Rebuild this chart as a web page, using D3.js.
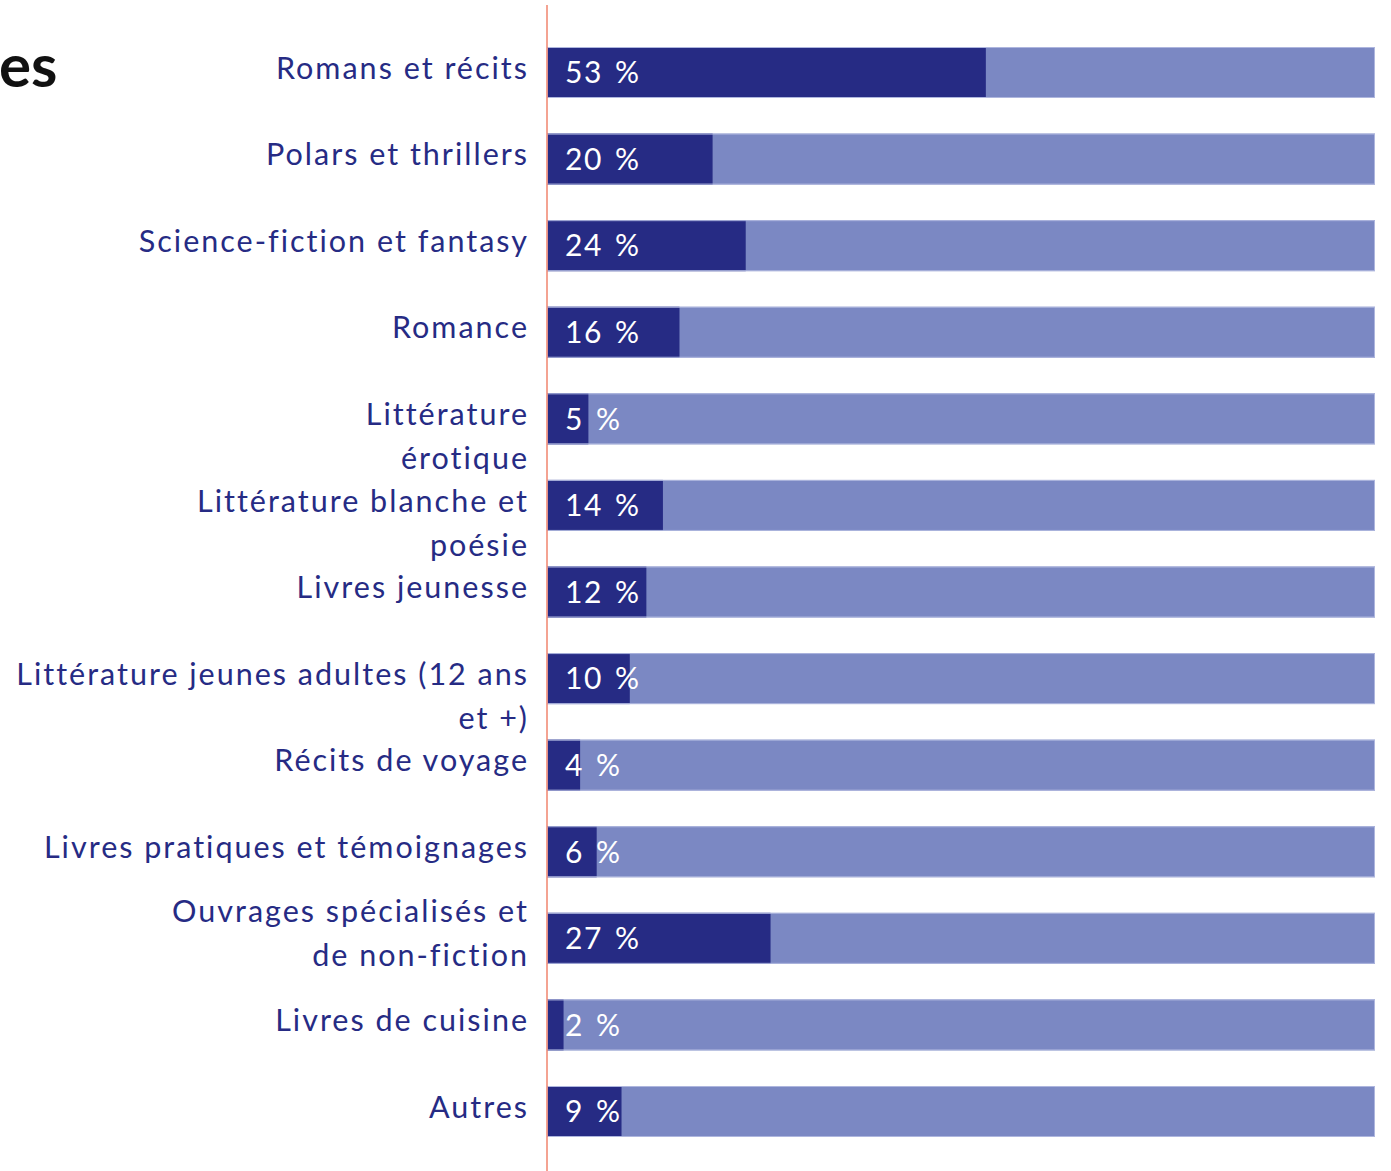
<!DOCTYPE html>
<html lang="fr">
<head>
<meta charset="utf-8">
<script src="https://cdn.jsdelivr.net/npm/d3@7"></script>
<style>
  html, body { margin: 0; padding: 0; background: #fff; }
  svg { display: block; }
  text { font-family: Lato, "Noto Sans", sans-serif; }
</style>
</head>
<body>
<svg id="chart" width="1391" height="1171"></svg>
<script>
// Genres read (share of respondents, %)
const categories = [
  "Romans et récits",
  "Polars et thrillers",
  "Science-fiction et fantasy",
  "Romance",
  "Littérature\nérotique",
  "Littérature blanche et\npoésie",
  "Livres jeunesse",
  "Littérature jeunes adultes (12 ans\net +)",
  "Récits de voyage",
  "Livres pratiques et témoignages",
  "Ouvrages spécialisés et\nde non-fiction",
  "Livres de cuisine",
  "Autres"
];
const values = [53, 20, 24, 16, 5, 14, 12, 10, 4, 6, 27, 2, 9];
const total = 100;
const titleText = "es";

const dark = "#262b84";
const light = "#7b88c3";
const navy = "#262b84";

const svg = d3.select("#chart");
const rows = categories.map((c, i) => ({ label: c, value: values[i] }));

const x = d3.scaleLinear().domain([0, total]).range([547, 1375]);
const y = d3.scaleBand().domain(categories).range([47, 1137]).paddingInner(0.411).paddingOuter(0);

// Title
svg.append("text")
  .attr("x", -1).attr("y", 87)
  .attr("font-size", 60).attr("font-weight", 700)
  .attr("fill", "#111")
  .text(titleText);

// Full-width background bars
svg.append("g").selectAll("rect").data(rows).join("rect")
  .attr("x", x(0)).attr("y", d => y(d.label))
  .attr("width", x(total) - x(0)).attr("height", y.bandwidth())
  .attr("fill", light);

// Value bars
svg.append("g").selectAll("rect").data(rows).join("rect")
  .attr("x", x(0)).attr("y", d => y(d.label))
  .attr("width", d => x(d.value) - x(0)).attr("height", y.bandwidth())
  .attr("fill", dark);

// Thin pale outline round each bar
svg.append("g").selectAll("rect").data(rows).join("rect")
  .attr("x", x(0) + 0.5).attr("y", d => y(d.label) + 0.5)
  .attr("width", x(total) - x(0) - 1).attr("height", y.bandwidth() - 1)
  .attr("fill", "none").attr("stroke", "#aeb6de").attr("stroke-width", 1);

// Value labels inside the bars
svg.append("g").selectAll("text").data(rows).join("text")
  .attr("x", x(0) + 18)
  .attr("y", d => y(d.label) + y.bandwidth() / 2)
  .attr("dy", "0.36em")
  .attr("font-size", 30)
  .attr("letter-spacing", 1.5)
  .attr("word-spacing", 3)
  .attr("fill", "#fff")
  .text(d => d.value + " %");

// Category labels, right-aligned against the axis
const lineH = 44;
const centred = new Set(["Ouvrages spécialisés et\nde non-fiction"]);
const lab = svg.append("g").selectAll("text").data(rows).join("text")
  .attr("text-anchor", "end")
  .attr("font-size", 30.5)
  .attr("letter-spacing", 2)
  .attr("fill", navy)
  .attr("y", d => {
    const n = d.label.split("\n").length;
    const shift = centred.has(d.label) ? -(n - 1) * lineH / 2 : 0;
    return y(d.label) + y.bandwidth() / 2 + shift;
  });
lab.each(function(d) {
  const t = d3.select(this);
  const yy = +t.attr("y");
  d.label.split("\n").forEach((line, k) => {
    t.append("tspan").attr("x", 529).attr("y", yy + k * lineH).attr("dy", "0.2em").text(line);
  });
});

// Axis line
svg.append("line")
  .attr("x1", x(0)).attr("x2", x(0)).attr("y1", 5).attr("y2", 1171)
  .attr("stroke", "#f0846e").attr("stroke-width", 1.5);
</script>
</body>
</html>
